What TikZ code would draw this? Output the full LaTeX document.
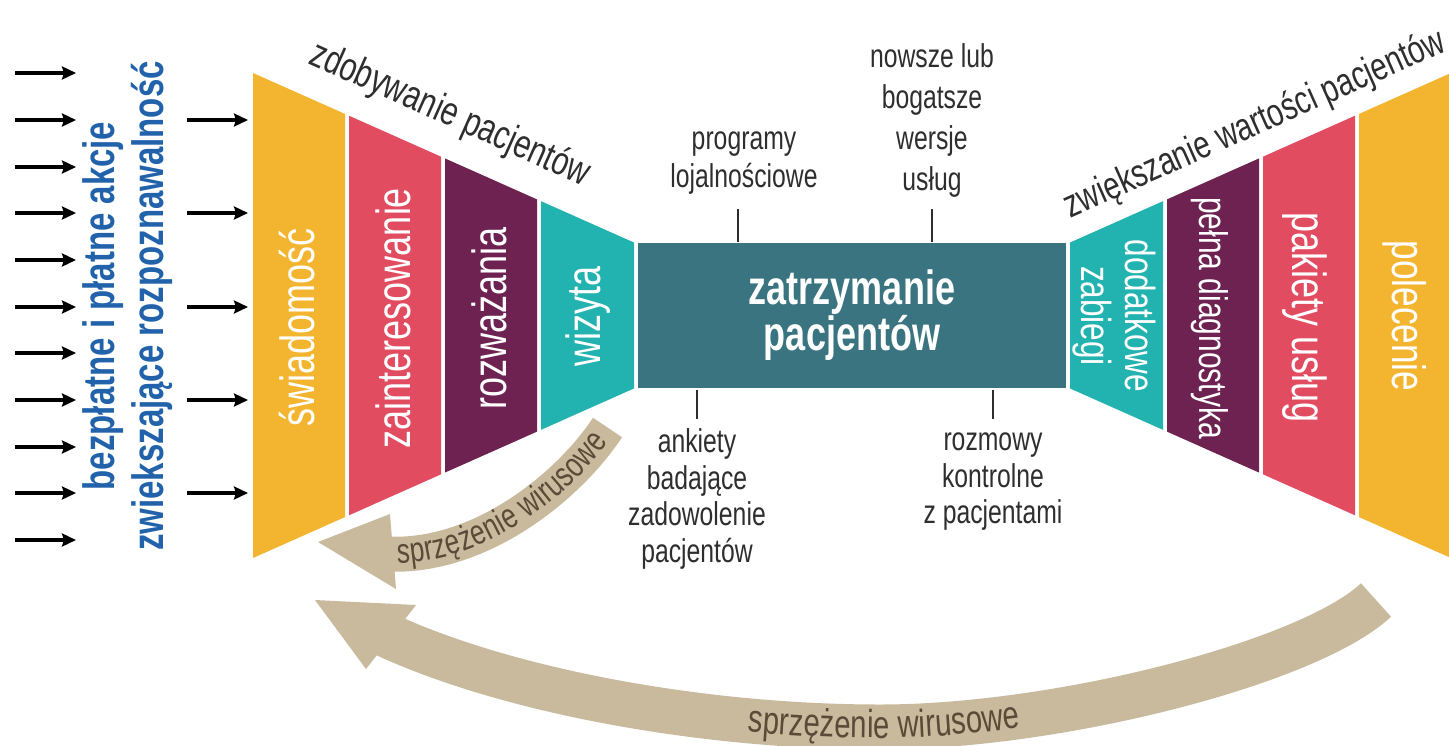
\documentclass[tikz,border=0pt]{standalone}
\usepackage{fontspec}
\newfontfamily\cf[FakeStretch=0.75]{Liberation Sans}
\usetikzlibrary{arrows.meta,decorations.text}
\newcommand\fsz[2]{\fontsize{#1}{#2}\selectfont}
\definecolor{yel}{HTML}{F3B52F}
\definecolor{pinkc}{HTML}{E24C61}
\definecolor{purp}{HTML}{6D2252}
\definecolor{tealc}{HTML}{22B2AF}
\definecolor{dteal}{HTML}{3A7480}
\definecolor{tanc}{HTML}{C9BA9D}
\definecolor{txtc}{HTML}{2E2E2E}
\definecolor{bluec}{HTML}{2162AA}
\definecolor{brownc}{HTML}{5A4A38}
\newcommand\lseg[3]{\fill[#3] (#1,{73+0.445*(#1-253)}) -- (#2,{73+0.445*(#2-253)}) -- (#2,{558-0.445*(#2-253)}) -- (#1,{558-0.445*(#1-253)}) -- cycle;}
\newcommand\rseg[3]{\fill[#3] (#1,{73+0.445*(1451-#1)}) -- (#2,{73+0.445*(1451-#2)}) -- (#2,{558-0.445*(1451-#2)}) -- (#1,{558-0.445*(1451-#1)}) -- cycle;}
\tikzset{
  lbl/.style={font=\cf\fsz{33}{38}, text=txtc, align=center, inner sep=0pt},
  vlbl/.style={font=\cf\fsz{48}{50}, text=white, inner sep=0pt, align=center},
  tickline/.style={draw=txtc, line width=1.8pt},
  blk/.style={draw=black, line width=3.8pt, -{Stealth[length=14pt,width=13pt,inset=2pt]}},
  band/.style={draw=tanc},
}
\begin{document}
\begin{tikzpicture}[x=1pt,y=-1pt]
\useasboundingbox (0,0) rectangle (1449,745);
% left funnel
\lseg{253}{345}{yel}
\lseg{349}{441}{pinkc}
\lseg{445}{537}{purp}
\lseg{541}{634}{tealc}
% right funnel
\rseg{1070}{1163}{tealc}
\rseg{1167}{1259}{purp}
\rseg{1263}{1355}{pinkc}
\rseg{1359}{1451}{yel}
% centre
\node[fill=dteal, minimum width=428pt, minimum height=145pt, inner sep=0pt, text=white, font=\cf\bfseries\fsz{48}{45}, align=center] (ret) at (852,315.5) {zatrzymanie\\pacjentów};
% funnel labels
\node[vlbl, rotate=90] (swi) at (297,327) {świadomość};
\node[vlbl, rotate=90] (zai) at (393,318) {zainteresowanie};
\node[vlbl, rotate=90] (roz) at (489,318) {rozważania};
\node[vlbl, rotate=90] (wiz) at (588,316) {wizyta};
\node[vlbl, rotate=-90, font=\cf\fsz{42}{44}] (dod) at (1114,316) {dodatkowe\\zabiegi};
\node[vlbl, rotate=-90, font=\cf\fsz{40}{44}] (pel) at (1210,318) {pełna diagnostyka};
\node[vlbl, rotate=-90] (pak) at (1305,318) {pakiety usług};
\node[vlbl, rotate=-90, font=\cf\fsz{47}{50}] (pol) at (1405,316) {polecenie};
% titles
\node[lbl, font=\cf\fsz{40}{44}, rotate=-24] (tl) at (450,115) {zdobywanie pacjentów};
\node[lbl, font=\cf\fsz{39}{44}, rotate=24] (tr) at (1255,125) {zwiększanie wartości pacjentów};
% side labels
\node[lbl] (prog) at (744,163) {programy\\lojalnościowe};
\node[lbl, font=\cf\fsz{33}{41}] (nows) at (932,120) {nowsze lub\\bogatsze\\wersje\\usług};
\node[lbl, font=\cf\fsz{33}{36.5}] (ank) at (697,499) {ankiety\\badające\\zadowolenie\\pacjentów};
\node[lbl, font=\cf\fsz{33}{36.5}] (rozm) at (993,482) {rozmowy\\kontrolne\\z pacjentami};
% ticks
\coordinate (t1a) at (738,209); \coordinate (t1b) at (738,242);
\coordinate (t2a) at (932,209); \coordinate (t2b) at (932,242);
\coordinate (t3a) at (697,390); \coordinate (t3b) at (697,419);
\coordinate (t4a) at (993,390); \coordinate (t4b) at (993,419);
\draw[tickline] (t1a) -- (t1b);
\draw[tickline] (t2a) -- (t2b);
\draw[tickline] (t3a) -- (t3b);
\draw[tickline] (t4a) -- (t4b);
% blue text
\node[font=\cf\bfseries\fsz{44}{49}, text=bluec, rotate=90, align=center, inner sep=0pt] (aw) at (128,306) {bezpłatne i płatne akcje\\zwiekszające rozpoznawalność};
% black arrows
\foreach \yy [count=\i] in {73,120,167,213,260,307,353,400,447,493,540} {
  \coordinate (as\i) at (15,\yy); \coordinate (ae\i) at (76,\yy);
  \draw[blk] (as\i) -- (ae\i);
}
\foreach \yy [count=\i] in {120,213,307,400,493} {
  \coordinate (bs\i) at (187,\yy); \coordinate (be\i) at (248,\yy);
  \draw[blk] (bs\i) -- (be\i);
}
% viral arrows
\coordinate (sA) at (607.5,427.5);
\coordinate (sB) at (386,554);
\draw[band, line width=35pt] (sA) .. controls (569,486) and (480,559) .. (sB);
\fill[tanc] (318,542) -- (390,514) -- (396,589) -- cycle;
\path[decorate, decoration={text along path, text={|\cf\fsz{35}{38}|sprzężenie wirusowe}, text align=center, text color=brownc, raise=-9pt}] (sB) .. controls (480,559) and (569,486) .. (sA);
\coordinate (bA) at (1376,600);
\coordinate (bM) at (880,727);
\coordinate (bB) at (382,633);
\draw[band, line width=45pt] (bA) .. controls (1310,662) and (1060,727) .. (bM) .. controls (700,727) and (503,690) .. (bB);
\fill[tanc] (315,600) -- (416,605) -- (366,669) -- cycle;
\path[decorate, decoration={text along path, text={|\cf\fsz{39}{42}|sprzężenie wirusowe}, text align=center, text color=brownc, raise=-11pt}] (bB) .. controls (503,690) and (700,727) .. (bM) .. controls (1060,727) and (1310,662) .. (bA);
\end{tikzpicture}
\end{document}
